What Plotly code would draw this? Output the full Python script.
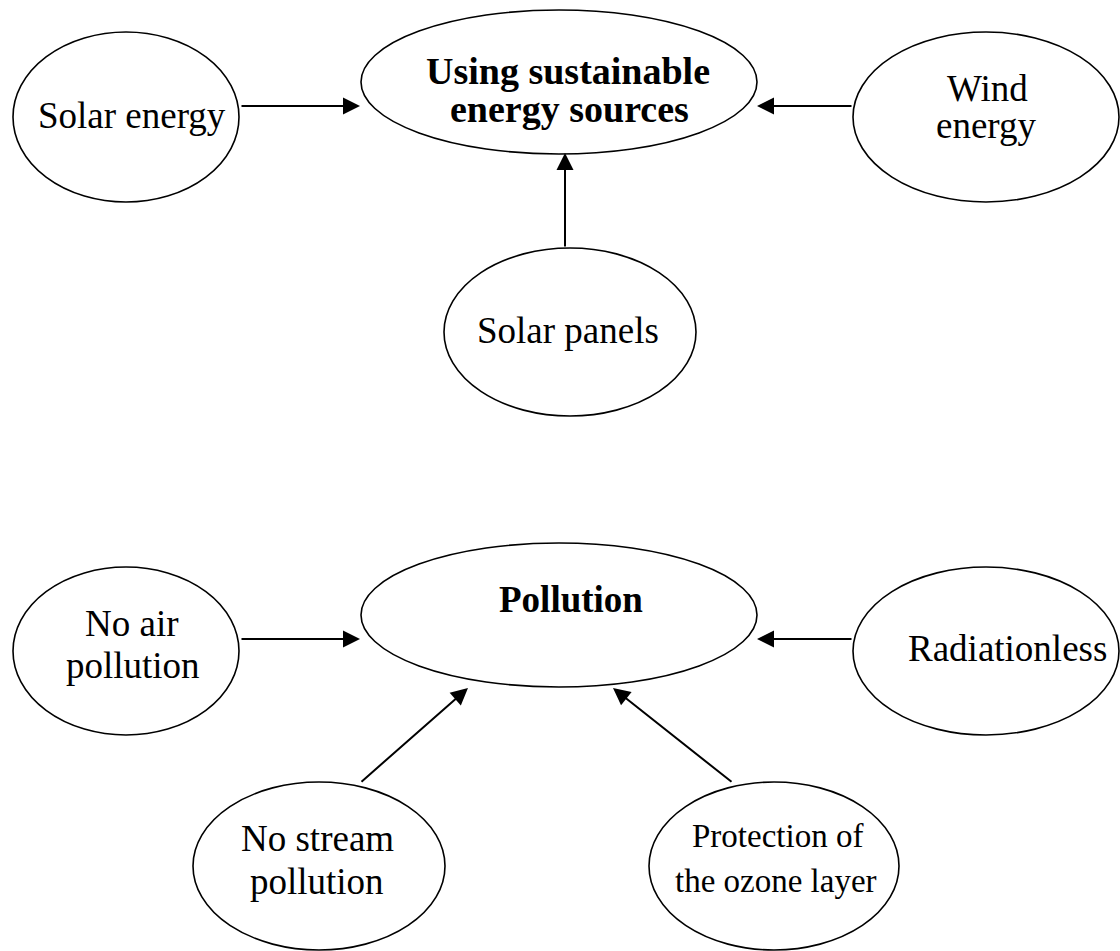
import plotly.graph_objects as go

# Nodes (ellipses): centre x, centre y, radius x, radius y (pixel space, y downwards)
node_names = ["Solar energy", "Using sustainable energy sources", "Wind energy", "Solar panels",
              "No air pollution", "Pollution", "Radiationless", "No stream pollution",
              "Protection of the ozone layer"]
node_cx = [126, 559, 986, 570, 126, 559, 986, 319, 774]
node_cy = [117, 82, 117, 332, 651, 615, 651, 866, 866]
node_rx = [113, 198, 133, 126, 113, 198, 133, 126, 125]
node_ry = [85, 72, 85, 84, 84, 72, 84, 84, 84]

# Text lines: label, x, baseline y, font size, bold
line_texts = ["Solar energy", "Using sustainable", "energy sources", "Wind", "energy",
              "Solar panels", "No air", "pollution", "Pollution", "Radiationless",
              "No stream", "pollution", "Protection of", "the ozone layer"]
line_x = [132, 568, 569, 987, 986, 568, 132, 133, 571, 1007, 317, 317, 777, 776]
line_base = [127, 83, 121, 100, 137, 342, 635, 677, 611, 660, 850, 893, 847, 892]
line_size = [37, 38, 38, 37, 37, 37, 37, 37, 37, 37, 37, 37, 33, 33]
line_bold = [False, True, True, False, False, False, False, False, True, False,
             False, False, False, False]

# Arrows: tail (x0,y0) -> head (x1,y1)
arrow_x0 = [240, 853, 565, 240, 853, 360, 733]
arrow_y0 = [106, 106, 248, 639, 639, 783, 783]
arrow_x1 = [360, 757, 565, 360, 757, 468, 613]
arrow_y1 = [106, 106, 153, 639, 639, 688, 688]

W, H = 1120, 951
fig = go.Figure()
fig.add_trace(go.Scatter(x=[0, W], y=[0, H], mode="markers", marker=dict(opacity=0),
                         hoverinfo="skip", showlegend=False))

for cx, cy, rx, ry in zip(node_cx, node_cy, node_rx, node_ry):
    fig.add_shape(type="circle", xref="x", yref="y",
                  x0=cx - rx, x1=cx + rx, y0=cy - ry, y1=cy + ry,
                  line=dict(color="black", width=1.6), fillcolor="rgba(0,0,0,0)")

for t, x, b, s, bold in zip(line_texts, line_x, line_base, line_size, line_bold):
    fig.add_annotation(x=x, y=b - 0.32 * s, xref="x", yref="y",
                       text=f"<b>{t}</b>" if bold else t, showarrow=False,
                       xanchor="center", yanchor="middle",
                       font=dict(family="Liberation Serif", size=s, color="black"))

for x0, y0, x1, y1 in zip(arrow_x0, arrow_y0, arrow_x1, arrow_y1):
    fig.add_annotation(x=x1, y=y1, ax=x0, ay=y0, xref="x", yref="y", axref="x", ayref="y",
                       text="", showarrow=True, arrowhead=2, arrowsize=1.7, arrowwidth=2,
                       arrowcolor="black", standoff=0)

fig.update_xaxes(range=[0, W], visible=False, fixedrange=True)
fig.update_yaxes(range=[H, 0], visible=False, fixedrange=True)
fig.update_layout(width=W, height=H, margin=dict(l=0, r=0, t=0, b=0),
                  paper_bgcolor="white", plot_bgcolor="white", showlegend=False)
fig.write_html("out.html", config={"displayModeBar": False},
               post_script="document.body.style.margin='0';document.body.style.overflow='hidden';")
